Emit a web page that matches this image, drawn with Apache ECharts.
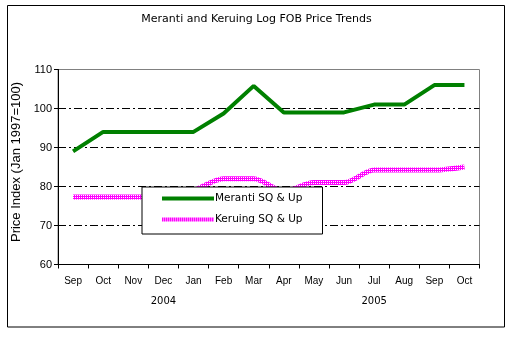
<!DOCTYPE html>
<html>
<head>
<meta charset="utf-8">
<script src="https://cdn.jsdelivr.net/npm/echarts@6/dist/echarts.min.js"></script>
<style>
  html, body { margin: 0; padding: 0; background: #fff; }
  #chart { width: 513px; height: 337px; }
</style>
</head>
<body>
<div id="chart"></div>
<script>
// Months (Sep 2004 – Oct 2005)
const months = ['Sep', 'Oct', 'Nov', 'Dec', 'Jan', 'Feb', 'Mar', 'Apr', 'May', 'Jun', 'Jul', 'Aug', 'Sep', 'Oct'];
// Year captions placed under the middle month of each year's run
const yearLabels = ['', '', '', '2004', '', '', '', '', '', '', '2005', '', '', ''];
// Price index, Jan 1997 = 100
const meranti = [89, 94, 94, 94, 94, 98.7, 105.8, 99, 99, 99, 101, 101, 106, 106];
const keruing = [77.3, 77.3, 77.3, 77.3, 79, 82, 82, 78.8, 81, 81, 84.2, 84.2, 84.2, 85];

// Magenta line fill with small white dots
function dottedMagenta() {
  const c = document.createElement('canvas');
  c.width = 2; c.height = 2;
  const ctx = c.getContext('2d');
  ctx.fillStyle = '#ff00ff';
  ctx.fillRect(0, 0, 2, 2);
  ctx.fillStyle = '#ffffff';
  ctx.fillRect(1, 1, 1, 1);
  return { image: c, repeat: 'repeat' };
}
const keruingColor = dottedMagenta();

const chart = echarts.init(document.getElementById('chart'), null, { renderer: 'canvas' });
const font = 'Liberation Sans, Arial, sans-serif';
const wide = 'DejaVu Sans, sans-serif';

chart.setOption({
  animation: false,
  backgroundColor: '#fff',
  textStyle: { fontFamily: font, color: '#000' },
  title: {
    text: 'Meranti and Keruing Log FOB Price Trends',
    left: 'center',
    top: 9,
    textStyle: { fontSize: 11, fontWeight: 'normal', color: '#000', fontFamily: wide }
  },
  graphic: [{
    type: 'rect',
    shape: { x: 7.5, y: 5.5, width: 497, height: 321.5 },
    style: { fill: 'none', stroke: '#000', lineWidth: 1 },
    z: -1
  }],
  grid: {
    left: 58, right: 33.5, top: 69.5, bottom: 72.5,
    show: true, borderColor: '#808080', borderWidth: 1, backgroundColor: '#fff'
  },
  legend: {
    orient: 'vertical',
    left: 142, top: 187,
    backgroundColor: '#fff',
    borderColor: '#000',
    borderWidth: 1,
    padding: [6, 20, 9, 20],
    itemWidth: 52,
    itemHeight: 4,
    itemGap: 10,
    textStyle: { fontSize: 10.5, color: '#000', fontFamily: wide, padding: [0, 0, 0, -4] },
    data: [
      { name: 'Meranti SQ & Up', icon: 'rect', itemStyle: { color: '#008000' } },
      { name: 'Keruing SQ & Up', icon: 'rect', itemStyle: { color: keruingColor } }
    ]
  },
  xAxis: [{
    type: 'category',
    data: months,
    boundaryGap: true,
    axisLine: { lineStyle: { color: '#000', width: 1 } },
    axisTick: { show: true, length: 4, interval: 0, lineStyle: { color: '#000' } },
    axisLabel: { interval: 0, fontSize: 10, color: '#000', margin: 12, fontFamily: font }
  }, {
    type: 'category',
    data: yearLabels,
    position: 'bottom',
    offset: 20,
    axisLine: { show: false },
    axisTick: { show: false },
    axisLabel: { interval: 0, fontSize: 10, color: '#000', margin: 12, fontFamily: wide }
  }],
  yAxis: {
    type: 'value',
    min: 60, max: 110, interval: 10,
    name: 'Price Index (Jan 1997=100)',
    nameLocation: 'middle',
    nameGap: 34,
    nameTextStyle: { fontSize: 13, color: '#000', fontFamily: font, padding: [0, 0, 0, 10] },
    axisLine: { show: true, lineStyle: { color: '#000', width: 1 } },
    axisTick: { show: true, length: 4, lineStyle: { color: '#000' } },
    axisLabel: { fontSize: 11, color: '#000', margin: 6, fontFamily: font },
    splitLine: {
      show: true,
      lineStyle: {
        color: ['rgba(0,0,0,0)', '#000', '#000', '#000', '#000', 'rgba(0,0,0,0)'],
        width: 1,
        type: [8, 3, 2, 3]
      }
    }
  },
  series: [{
    name: 'Meranti SQ & Up',
    type: 'line',
    data: meranti,
    showSymbol: false,
    symbol: 'none',
    color: '#008000',
    lineStyle: { color: '#008000', width: 4 },
    z: 3
  }, {
    name: 'Keruing SQ & Up',
    type: 'line',
    data: keruing,
    showSymbol: false,
    symbol: 'none',
    smooth: 0.3,
    color: '#ff00ff',
    lineStyle: { color: keruingColor, width: 5 },
    z: 2
  }]
});
</script>
</body>
</html>
